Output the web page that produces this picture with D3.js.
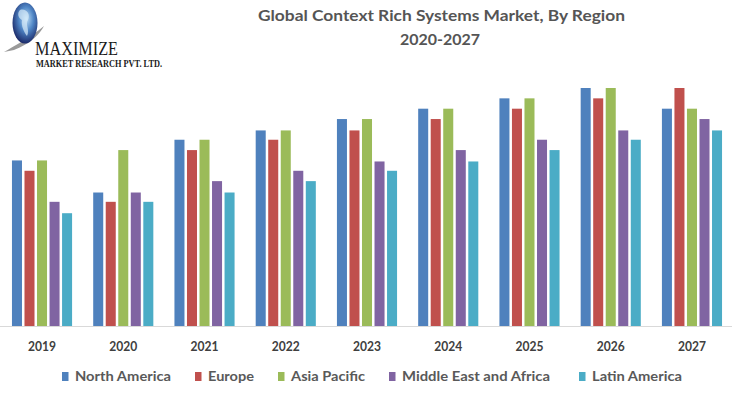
<!DOCTYPE html>
<html>
<head>
<meta charset="utf-8">
<script src="https://cdn.jsdelivr.net/npm/d3@7"></script>
<style>
  body { margin: 0; background: #fff; }
  svg { display: block; }
</style>
</head>
<body>
<svg id="chart" width="736" height="395"></svg>
<script>
// chart data
const years = ["2019", "2020", "2021", "2022", "2023", "2024", "2025", "2026", "2027"];
const regions = ["North America", "Europe", "Asia Pacific", "Middle East and Africa", "Latin America"];
const northAmerica = [16.0, 12.9, 18.0, 18.9, 20.0, 21.0, 22.0, 23.0, 21.0];
const europe       = [15.0, 12.0, 17.0, 18.0, 18.9, 20.0, 21.0, 22.0, 23.0];
const asiaPacific  = [16.0, 17.0, 18.0, 18.9, 20.0, 21.0, 22.0, 23.0, 21.0];
const middleEast   = [12.0, 12.9, 14.0, 15.0, 15.9, 17.0, 18.0, 18.9, 20.0];
const latinAmerica = [10.9, 12.0, 12.9, 14.0, 15.0, 15.9, 17.0, 18.0, 18.9];
const colors = ["#4f81bd", "#c0504d", "#9bbb59", "#8064a2", "#4bacc6"];

const seriesValues = [northAmerica, europe, asiaPacific, middleEast, latinAmerica];
const rows = years.map((y, i) => ({ year: y, values: seriesValues.map(s => s[i]) }));

const svg = d3.select("#chart");
const baseY = 326;
const font = "Lato, 'Open Sans', sans-serif";

const x0 = d3.scaleBand()
    .domain(years)
    .range([1.4, 732.6])
    .paddingInner(0.26)
    .paddingOuter(0.13);

const x1 = d3.scaleBand()
    .domain(d3.range(regions.length))
    .range([0, x0.bandwidth()])
    .paddingInner(0.2);

const y = d3.scaleLinear()
    .domain([0, 23])
    .range([baseY, 88]);

const color = d3.scaleOrdinal().domain(d3.range(regions.length)).range(colors);

// logo
const defs = svg.append("defs");
const grad = defs.append("radialGradient").attr("id", "globe")
    .attr("cx", "55%").attr("cy", "40%").attr("r", "65%");
grad.append("stop").attr("offset", "0%").attr("stop-color", "#bfe0f7");
grad.append("stop").attr("offset", "45%").attr("stop-color", "#4f86c6");
grad.append("stop").attr("offset", "100%").attr("stop-color", "#141d5c");

const logo = svg.append("g");
logo.append("path")
    .attr("d", "M4,52 C14,46 30,38 44,26 C40,34 30,44 14,50 Z")
    .attr("fill", "#9a9a9a");
logo.append("ellipse")
    .attr("cx", 25).attr("cy", 23).attr("rx", 12.5).attr("ry", 20.5)
    .attr("fill", "url(#globe)");
logo.append("path")
    .attr("d", "M20,10 C26,8 31,14 28,20 C25,24 30,30 27,36 C24,32 21,26 22,20 C18,18 17,13 20,10 Z")
    .attr("fill", "#d8ecfa").attr("opacity", 0.7);
logo.append("text")
    .attr("x", 35).attr("y", 55)
    .attr("font-family", "Liberation Serif, DejaVu Serif, serif")
    .attr("font-size", 19)
    .attr("textLength", 83).attr("lengthAdjust", "spacingAndGlyphs")
    .attr("fill", "#1a1a1a")
    .text("MAXIMIZE");
logo.append("text")
    .attr("x", 36).attr("y", 66.5)
    .attr("font-family", "Liberation Serif, DejaVu Serif, serif")
    .attr("font-size", 10.5).attr("font-weight", "bold")
    .attr("textLength", 126).attr("lengthAdjust", "spacingAndGlyphs")
    .attr("fill", "#1a1a1a")
    .text("MARKET RESEARCH PVT. LTD.");

// title
const title = svg.append("g")
    .attr("font-family", font)
    .attr("font-weight", "bold")
    .attr("font-size", 15)
    .attr("fill", "#555555");
title.append("text").attr("x", 258).attr("y", 21)
    .attr("textLength", 367).attr("lengthAdjust", "spacingAndGlyphs")
    .text("Global Context Rich Systems Market, By Region");
title.append("text").attr("x", 400).attr("y", 45)
    .attr("textLength", 80).attr("lengthAdjust", "spacingAndGlyphs")
    .text("2020-2027");

// bars
const groups = svg.append("g").selectAll("g")
    .data(rows)
    .join("g")
    .attr("transform", d => `translate(${x0(d.year)},0)`);

groups.selectAll("rect")
    .data(d => d.values.map((v, i) => ({ i, v })))
    .join("rect")
    .attr("x", d => x1(d.i))
    .attr("width", x1.bandwidth())
    .attr("y", d => y(d.v))
    .attr("height", d => baseY - y(d.v))
    .attr("fill", d => color(d.i));

// x axis
const xAxis = svg.append("g")
    .attr("transform", `translate(0,${baseY})`)
    .call(d3.axisBottom(x0).tickSize(0).tickPadding(16));
xAxis.select(".domain").attr("d", "M0,0.5H732").attr("stroke", "#d9d9d9");
xAxis.selectAll("text")
    .attr("font-family", font)
    .attr("font-weight", "bold")
    .attr("font-size", 13)
    .attr("textLength", 28).attr("lengthAdjust", "spacingAndGlyphs")
    .attr("fill", "#404040");

// legend
const legendX = [62, 195, 278, 389, 579];
const legendW = [96, 46, 74, 148, 90];
const legend = svg.append("g").selectAll("g")
    .data(regions)
    .join("g")
    .attr("transform", (d, i) => `translate(${legendX[i]},372)`);
legend.append("rect")
    .attr("width", 6.5).attr("height", 9)
    .attr("fill", (d, i) => colors[i]);
legend.append("text")
    .attr("x", 13).attr("y", 9)
    .attr("font-family", font)
    .attr("font-weight", "bold")
    .attr("font-size", 13)
    .attr("textLength", (d, i) => legendW[i]).attr("lengthAdjust", "spacingAndGlyphs")
    .attr("fill", "#595959")
    .text(d => d);
</script>
</body>
</html>
